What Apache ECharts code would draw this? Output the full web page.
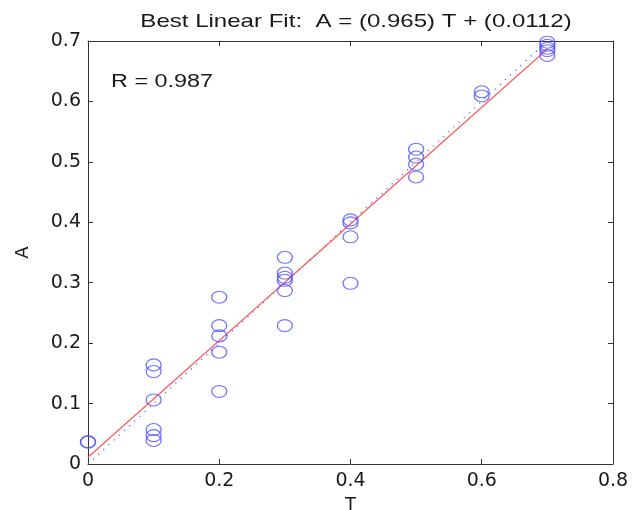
<!DOCTYPE html>
<html>
<head>
<meta charset="utf-8">
<script src="https://cdn.jsdelivr.net/npm/echarts@6/dist/echarts.min.js"></script>
<style>
  html, body { margin: 0; padding: 0; background: #fff; }
  #chart { width: 643px; height: 510px; }
</style>
</head>
<body>
<div id="chart"></div>
<script>
  // targets (T) and network outputs (A)
  var tValues = [0, 0,
    0.1, 0.1, 0.1, 0.1, 0.1, 0.1,
    0.2, 0.2, 0.2, 0.2, 0.2,
    0.3, 0.3, 0.3, 0.3, 0.3, 0.3,
    0.4, 0.4, 0.4, 0.4,
    0.5, 0.5, 0.5, 0.5,
    0.6, 0.6,
    0.7, 0.7, 0.7, 0.7, 0.7]
  var aValues = [0.036, 0.037,
    0.164, 0.153, 0.106, 0.057, 0.047, 0.039,
    0.276, 0.229, 0.212, 0.185, 0.120,
    0.342, 0.316, 0.309, 0.304, 0.287, 0.229,
    0.404, 0.399, 0.376, 0.299,
    0.521, 0.508, 0.496, 0.475,
    0.616, 0.609,
    0.698, 0.693, 0.688, 0.684, 0.676]
  // best linear fit end points and the A = T reference line
  var fitT = [0, 0.7]
  var fitA = [0.0112, 0.6867]
  var refT = [0, 0.7]
  var refA = [0, 0.7]
  var xTicks = [0, 0.2, 0.4, 0.6, 0.8]
  var yTicks = [0, 0.1, 0.2, 0.3, 0.4, 0.5, 0.6, 0.7]

  var pts = tValues.map(function (t, i) { return [t, aValues[i]] })
  var fit = fitT.map(function (t, i) { return [t, fitA[i]] })
  var ref = refT.map(function (t, i) { return [t, refA[i]] })

  var font = 'DejaVu Sans'
  var axisCol = '#333'
  var txtCol = '#1a1a1a'

  var chart = echarts.init(document.getElementById('chart'))

  function xAx (pos, showLabel) {
    return {
      type: 'value', position: pos, min: xTicks[0], max: xTicks[xTicks.length - 1], interval: 0.2,
      name: showLabel ? 'T' : '', nameLocation: 'middle', nameGap: 28,
      nameTextStyle: { fontFamily: font, fontSize: 18, color: txtCol },
      axisLine: { show: true, onZero: false, lineStyle: { color: axisCol } },
      axisTick: { show: true, inside: true, length: 5, lineStyle: { color: axisCol } },
      axisLabel: { show: showLabel, fontFamily: font, fontSize: 19, color: txtCol, margin: 8 },
      splitLine: { show: false }
    }
  }
  function yAx (pos, showLabel) {
    return {
      type: 'value', position: pos, min: yTicks[0], max: yTicks[yTicks.length - 1], interval: 0.1,
      name: showLabel ? 'A' : '', nameLocation: 'middle', nameGap: 56,
      nameTextStyle: { fontFamily: font, fontSize: 18, color: txtCol },
      axisLine: { show: true, onZero: false, lineStyle: { color: axisCol } },
      axisTick: { show: true, inside: true, length: 5, lineStyle: { color: axisCol } },
      axisLabel: { show: showLabel, fontFamily: font, fontSize: 19, color: txtCol, margin: 7 },
      splitLine: { show: false }
    }
  }

  chart.setOption({
    backgroundColor: '#fff',
    animation: false,
    graphic: [{
      type: 'text', x: 356, y: 22, scaleX: 1.3,
      style: {
        text: 'Best Linear Fit:  A = (0.965) T + (0.0112)', font: '18.5px "Liberation Sans"',
        fill: txtCol, align: 'center', verticalAlign: 'middle'
      }
    }, {
      type: 'text', x: 111, y: 82, scaleX: 1.3,
      style: {
        text: 'R = 0.987', font: '18px "Liberation Sans"',
        fill: txtCol, align: 'left', verticalAlign: 'middle'
      }
    }],
    grid: { left: 88, right: 30, top: 41, bottom: 46, outerBoundsMode: 'none' },
    xAxis: [xAx('bottom', true), xAx('top', false)],
    yAxis: [yAx('left', true), yAx('right', false)],
    series: [
      {
        type: 'line', data: ref, symbol: 'none',
        lineStyle: { color: '#4a4aff', width: 1.3, type: [1, 6] }, z: 1
      },
      {
        type: 'line', data: fit, symbol: 'none',
        lineStyle: { color: '#ff5a5a', width: 1.2 }, z: 2
      },
      {
        type: 'scatter', data: pts, symbol: 'circle', symbolSize: [15, 12],
        itemStyle: { color: 'rgba(0,0,0,0)', borderColor: '#5050ff', borderWidth: 1.2 }, z: 3
      }
    ]
  })
</script>
</body>
</html>
